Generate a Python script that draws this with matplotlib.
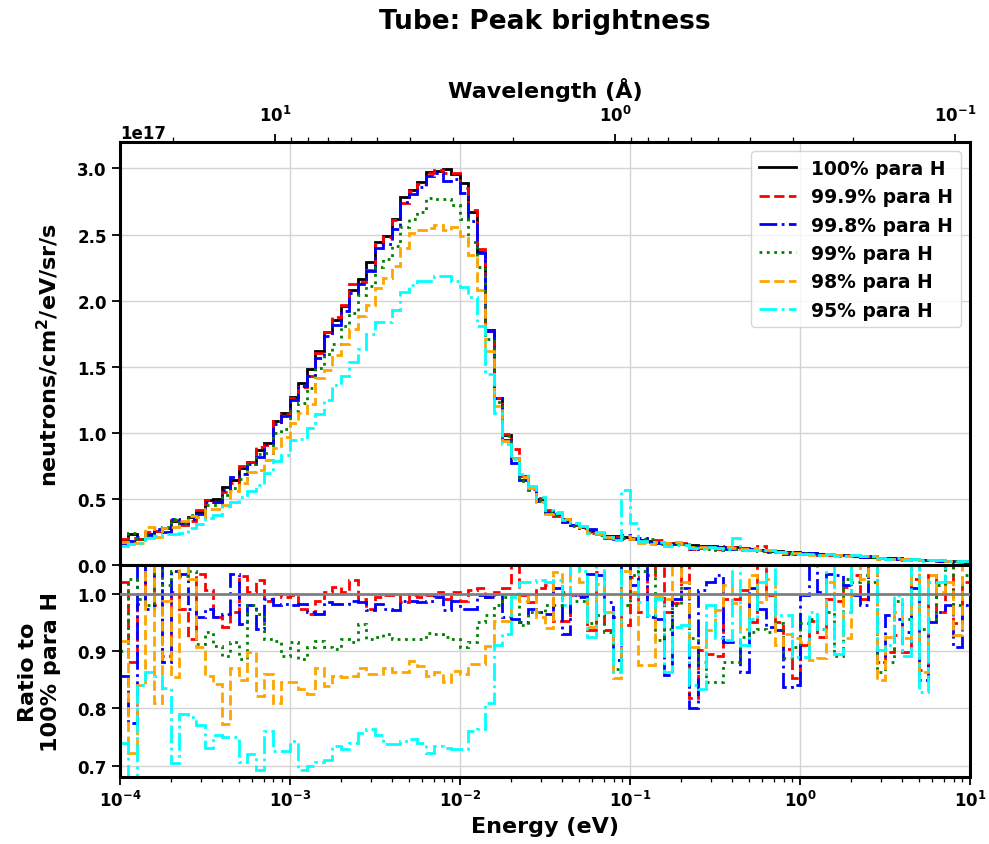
import numpy as np
import matplotlib
matplotlib.use("Agg")
import matplotlib.pyplot as plt

plt.rcParams['font.family'] = 'DejaVu Sans'
plt.rcParams['font.weight'] = 'bold'
plt.rcParams['axes.labelweight'] = 'bold'
plt.rcParams['mathtext.default'] = 'bf'
plt.rcParams['xtick.labelsize'] = 12
plt.rcParams['ytick.labelsize'] = 12

# energy bins: 20 per decade from 1e-4 to 10 eV
edges = np.logspace(-4, 1, 101)

# 100% para spectrum (units of 1e17 n/cm2/eV/sr/s)
flux_100 = np.array([
    0.19, 0.235, 0.20, 0.235, 0.26, 0.28, 0.336, 0.31, 0.36, 0.40,
    0.49, 0.50, 0.59, 0.64, 0.73, 0.78, 0.87, 0.92, 1.09, 1.15,
    1.27, 1.38, 1.48, 1.62, 1.76, 1.85, 1.96, 2.08, 2.16, 2.29,
    2.44, 2.49, 2.62, 2.78, 2.84, 2.90, 2.975, 2.98, 2.995, 2.955,
    2.89, 2.67, 2.37, 1.78, 1.26, 0.985, 0.81, 0.675, 0.587, 0.50,
    0.41, 0.385, 0.348, 0.30, 0.285, 0.26, 0.234, 0.222, 0.22, 0.21,
    0.195, 0.188, 0.182, 0.176, 0.170, 0.163, 0.158, 0.150, 0.146, 0.140,
    0.136, 0.134, 0.134, 0.128, 0.122, 0.113, 0.108, 0.104, 0.100, 0.096,
    0.092, 0.088, 0.084, 0.080, 0.076, 0.072, 0.068, 0.064, 0.060, 0.056,
    0.053, 0.050, 0.046, 0.043, 0.040, 0.037, 0.034, 0.031, 0.028, 0.026,
])

# ratios to the 100% para spectrum
ratio_999 = np.array([
    1.02, 0.88, 0.982, 1.07, 0.98, 0.892, 1.003, 0.974, 0.921, 1.035,
    1.006, 0.959, 0.942, 0.968, 1.03, 1.003, 1.023, 0.988, 1.0, 0.994,
    0.997, 0.974, 0.965, 0.988, 1.003, 1.012, 1.003, 1.023, 0.991, 0.974,
    0.994, 0.997, 0.997, 0.985, 0.997, 0.994, 0.997, 1.003, 0.991, 1.003,
    0.988, 1.006, 1.009, 0.994, 1.003, 1.009, 1.08, 0.997, 0.985, 1.01,
    1.015, 0.953, 0.953, 0.997, 0.997, 0.936, 1.038, 0.936, 0.959, 0.945,
    1.029, 0.968, 1.032, 1.07, 0.968, 0.983, 1.07, 0.817, 0.901, 0.895,
    0.892, 0.991, 0.991, 1.006, 0.95, 1.28, 0.997, 0.951, 0.904, 0.852,
    0.91, 0.953, 0.924, 0.991, 0.988, 1.012, 1.032, 0.991, 1.07, 0.881,
    0.898, 0.927, 0.898, 1.026, 0.866, 1.032, 0.968, 1.07, 0.948, 1.02,
])
ratio_998 = np.array([
    0.857, 0.775, 1.06, 0.974, 1.06, 0.88, 1.04, 1.035, 0.974, 0.959,
    0.974, 0.959, 0.965, 1.035, 0.947, 0.98, 0.939, 0.991, 0.98, 0.982,
    0.98, 0.982, 0.968, 0.965, 0.985, 0.982, 0.982, 0.988, 0.985, 0.971,
    0.982, 0.974, 0.971, 0.988, 0.988, 0.985, 0.988, 0.994, 0.971, 0.988,
    0.974, 0.974, 0.997, 0.994, 1.0, 0.959, 0.956, 0.951, 0.974, 0.968,
    0.965, 1.009, 0.93, 0.997, 0.994, 1.035, 1.032, 0.985, 0.884, 1.07,
    1.015, 1.07, 0.96, 0.956, 0.858, 0.991, 1.009, 0.80, 1.006, 1.02,
    1.032, 0.916, 0.916, 0.863, 1.009, 0.974, 0.942, 0.936, 0.837, 0.84,
    0.997, 1.07, 1.003, 1.035, 1.032, 1.015, 0.997, 0.98, 1.07, 0.881,
    0.962, 0.956, 0.933, 1.009, 0.849, 0.951, 0.968, 0.98, 0.907, 0.98,
])
ratio_99 = np.array([
    0.90, 1.026, 0.991, 0.98, 1.07, 1.015, 1.04, 1.03, 1.04, 0.912,
    0.933, 0.909, 0.892, 0.915, 0.886, 0.98, 0.965, 0.921, 0.918, 0.892,
    0.915, 0.886, 0.906, 0.918, 0.906, 0.904, 0.921, 0.915, 0.947, 0.921,
    0.924, 0.93, 0.921, 0.921, 0.921, 0.921, 0.932, 0.93, 0.924, 0.921,
    0.906, 0.915, 0.95, 0.962, 0.98, 0.994, 1.0, 0.945, 0.968, 0.968,
    0.98, 0.98, 1.003, 0.988, 0.988, 0.948, 0.962, 0.933, 0.869, 0.98,
    1.032, 1.04, 1.07, 0.919, 0.939, 0.98, 1.02, 0.922, 0.881, 0.846,
    0.846, 0.881, 0.881, 0.924, 0.933, 0.939, 0.933, 0.948, 0.887, 0.907,
    0.948, 0.956, 0.939, 0.968, 0.892, 1.026, 1.02, 1.032, 1.02, 0.863,
    0.881, 0.988, 0.956, 1.07, 0.939, 0.956, 1.015, 1.07, 0.98, 1.032,
])
ratio_98 = np.array([
    0.918, 0.722, 0.84, 1.21, 0.81, 0.988, 0.854, 1.07, 1.026, 0.906,
    0.857, 0.842, 0.772, 0.871, 0.85, 0.898, 0.822, 0.86, 0.81, 0.845,
    0.845, 0.833, 0.825, 0.871, 0.839, 0.857, 0.854, 0.857, 0.871, 0.86,
    0.86, 0.871, 0.863, 0.863, 0.883, 0.874, 0.857, 0.863, 0.845, 0.865,
    0.86, 0.877, 0.877, 0.909, 0.953, 0.953, 1.0, 0.988, 0.997, 0.96,
    0.94, 1.038, 0.997, 1.07, 1.02, 0.942, 1.017, 0.968, 0.852, 1.04,
    1.003, 0.875, 0.875, 0.994, 0.991, 1.07, 1.02, 0.907, 0.907, 0.936,
    0.971, 1.015, 0.983, 0.939, 1.032, 0.985, 1.026, 0.91, 0.93, 0.922,
    0.916, 0.884, 0.887, 1.02, 1.0, 0.922, 1.07, 1.026, 1.07, 0.849,
    0.924, 0.968, 0.922, 1.07, 0.863, 1.032, 1.003, 1.02, 0.927, 1.07,
])
ratio_95 = np.array([
    0.74, 0.66, 0.84, 0.863, 0.857, 0.836, 0.705, 0.79, 0.784, 0.77,
    0.73, 0.754, 0.75, 0.75, 0.707, 0.72, 0.693, 0.76, 0.725, 0.725,
    0.743, 0.693, 0.70, 0.707, 0.71, 0.734, 0.728, 0.74, 0.757, 0.763,
    0.754, 0.737, 0.737, 0.743, 0.746, 0.74, 0.722, 0.734, 0.73, 0.728,
    0.728, 0.76, 0.763, 0.81, 0.91, 0.93, 0.994, 1.02, 1.02, 1.023,
    1.02, 1.023, 0.98, 1.07, 1.04, 0.925, 1.07, 0.968, 0.863, 2.70,
    1.62, 0.985, 0.962, 0.991, 0.863, 0.942, 0.945, 0.84, 0.834, 0.98,
    0.922, 0.919, 1.55, 0.91, 0.956, 1.02, 1.07, 0.962, 0.962, 0.89,
    0.89, 0.968, 0.939, 1.07, 0.895, 0.968, 1.07, 1.07, 1.07, 0.901,
    0.91, 0.997, 0.892, 1.07, 0.828, 1.02, 1.02, 1.07, 1.07, 1.07,
])

labels = ['100% para H', '99.9% para H', '99.8% para H',
          '99% para H', '98% para H', '95% para H']
colors = ['black', 'red', 'blue', 'green', 'orange', 'cyan']
styles = ['-', '--', '-.', ':', '--', '-.']
ratios = [np.ones_like(flux_100), ratio_999, ratio_998, ratio_99, ratio_98, ratio_95]


def energy_to_wavelength(E):
    E = np.asarray(E, dtype=float)
    return 0.2860 / np.sqrt(np.maximum(E, 1e-30))


def wavelength_to_energy(lam):
    lam = np.asarray(lam, dtype=float)
    return (0.2860 / np.maximum(lam, 1e-30)) ** 2


fig = plt.figure(figsize=(9.89, 8.45), dpi=100)
ax1 = fig.add_axes([0.1213, 0.3302, 0.8595, 0.5006])
ax2 = fig.add_axes([0.1213, 0.0793, 0.8595, 0.2509], sharex=ax1)

lw = 2.0
for r, lab, c, ls in zip(ratios, labels, colors, styles):
    ax1.stairs(flux_100 * r * 1e17, edges, baseline=None, color=c,
               linestyle=ls, linewidth=lw, label=lab)

for r, c, ls in zip(ratios[1:], colors[1:], styles[1:]):
    ax2.stairs(r, edges, baseline=None, color=c, linestyle=ls, linewidth=lw)
ax2.axhline(1.0, color='gray', linewidth=2, zorder=3)

ax1.set_xscale('log')
ax1.set_xlim(1e-4, 10)
ax1.set_ylim(0, 3.2e17)
ax2.set_ylim(0.68, 1.05)
ax2.set_yticks([0.7, 0.8, 0.9, 1.0])
ax2.yaxis.set_major_formatter(matplotlib.ticker.FormatStrFormatter('%.1f'))

for ax in (ax1, ax2):
    ax.grid(True, which='major', color='#d3d3d3', linewidth=1)
    ax.set_axisbelow(True)
    for sp in ax.spines.values():
        sp.set_linewidth(2.2)
    ax.tick_params(which='major', length=6, width=1.3)
    ax.tick_params(which='minor', length=3.5, width=0.9)

ax1.tick_params(axis='x', which='both', bottom=False, labelbottom=False)

ax1.set_ylabel('neutrons/cm$^2$/eV/sr/s', fontsize=16)
ax2.set_ylabel('Ratio to\n100% para H', fontsize=16)
ax2.set_xlabel('Energy (eV)', fontsize=16)
ax1.yaxis.set_label_coords(-0.069, 0.5)
ax2.yaxis.set_label_coords(-0.069, 0.5)

secax = ax1.secondary_xaxis('top', functions=(energy_to_wavelength, wavelength_to_energy))
secax.set_xticks([10, 1, 0.1])
secax.set_xlabel('Wavelength (Å)', fontsize=16, labelpad=6)
secax.tick_params(which='major', length=6, width=1.3, pad=6)
secax.tick_params(which='minor', length=3.5, width=0.9)

leg = ax1.legend(loc='upper right', fontsize=13.5, frameon=True)

fig.text(0.551, 1 - 22 / 845, 'Tube: Peak brightness', ha='center', va='center',
         fontsize=19, fontweight='bold')

fig.savefig('out.png', dpi=100)
